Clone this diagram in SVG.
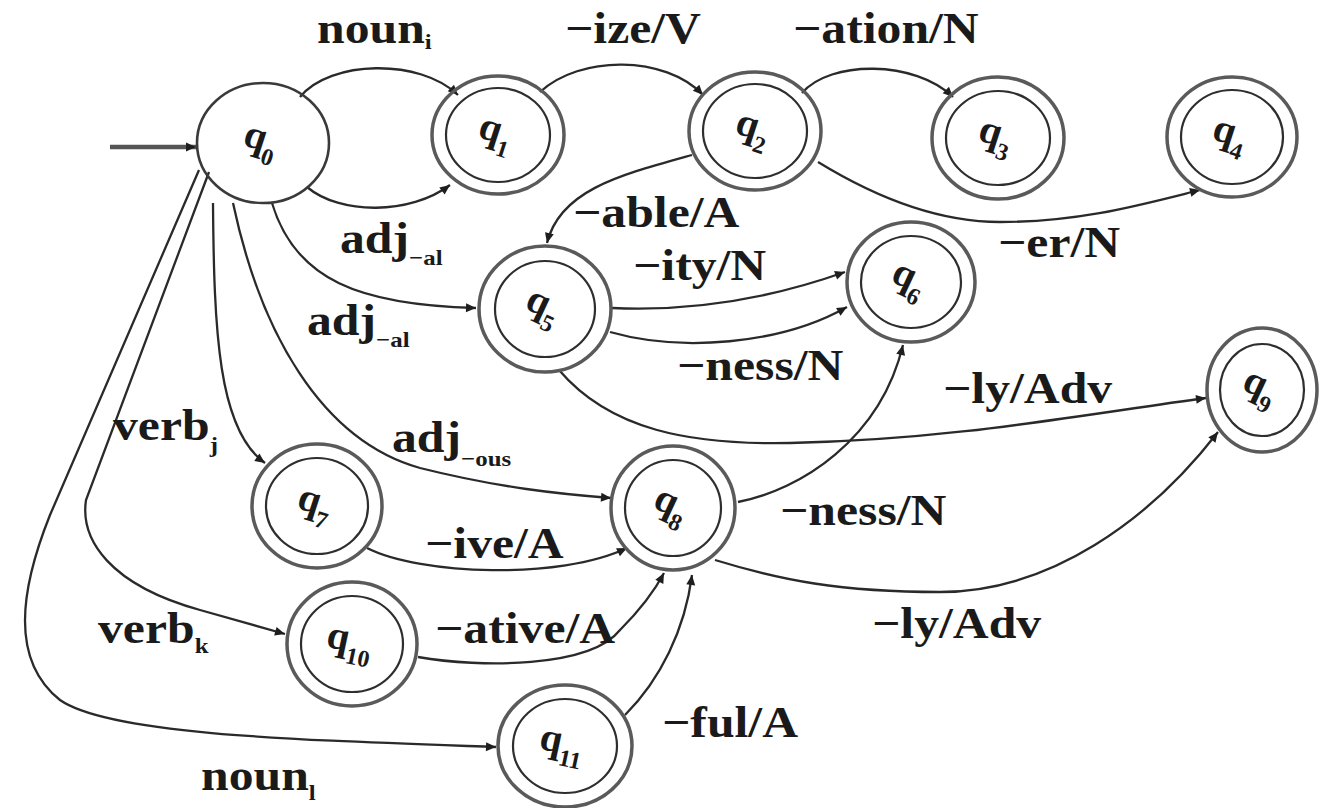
<svg xmlns="http://www.w3.org/2000/svg" width="1321" height="808" viewBox="0 0 1321 808">
<defs>
<marker id="ah" viewBox="0 0 10 10" refX="10" refY="5" markerWidth="14" markerHeight="10" markerUnits="userSpaceOnUse" orient="auto">
<path d="M0,0.5 L10,5 L0,9.5 z" fill="#1e1e1e"/>
</marker>
<style>
.outer{fill:none;stroke:#5a5a5a;stroke-width:3.5}
.inner{fill:none;stroke:#2e2e2e;stroke-width:2.2}
.single{fill:none;stroke:#3a3a3a;stroke-width:2.6}
.edge{fill:none;stroke:#2a2a2a;stroke-width:2.3;marker-end:url(#ah)}
.start{fill:none;stroke:#555;stroke-width:4.5;marker-end:url(#ah)}
.lbl{font-family:"Liberation Serif","Times New Roman",serif;font-weight:bold;font-size:44px;fill:#1a1a1a}
.sub{font-size:22px}
.nl{font-family:"Liberation Serif","Times New Roman",serif;font-weight:bold;font-size:40px;fill:#1a1a1a}
.nsub{font-size:24px}
</style>
</defs>
<rect x="0" y="0" width="1321" height="808" fill="#ffffff"/>

<g id="connectors">
<path class="start" d="M110,147 L196,147"/>
<path class="edge" d="M300,97 C330,60 420,58 458,95"/>
<path class="edge" d="M307,187 C340,215 410,215 450,185"/>
<path class="edge" d="M540,92 C580,55 665,55 703,95"/>
<path class="edge" d="M802,93 C830,60 915,60 953,97"/>
<path class="edge" d="M818,162 C880,200 940,222 1000,222 C1080,222 1140,205 1200,190"/>
<path class="edge" d="M692,155 C620,175 560,190 547,243"/>
<path class="edge" d="M272,203 C295,280 360,305 476,308"/>
<path class="edge" d="M612,308 C700,312 780,295 845,272"/>
<path class="edge" d="M610,332 C680,352 780,345 847,307"/>
<path class="edge" d="M559,370 C610,430 690,445 790,443 C950,440 1080,415 1206,398"/>
<path class="edge" d="M738,502 C800,490 880,440 903,345"/>
<path class="edge" d="M715,560 C780,580 840,592 940,592 C1050,592 1150,520 1218,432"/>
<path class="edge" d="M213,203 C214,330 218,430 265,463"/>
<path class="edge" d="M233,203 C260,330 320,440 420,468 C500,488 560,494 611,498"/>
<path class="edge" d="M367,548 C420,575 560,580 627,548"/>
<path class="edge" d="M209,172 L86,500 C80,540 110,585 200,610 L285,634"/>
<path class="edge" d="M199,170 L50,515 C20,590 10,660 60,700 C110,735 300,740 496,747"/>
<path class="edge" d="M418,657 C480,668 590,668 620,630 C640,610 655,590 664,573"/>
<path class="edge" d="M625,715 C660,680 685,630 692,575"/>
</g>

<g id="edge-labels">
<text class="lbl" transform="translate(317,43) scale(1.13,1)">noun<tspan class="sub" dy="6">i</tspan></text>
<text class="lbl" transform="translate(565,43) scale(1.13,1)">−ize/V</text>
<text class="lbl" transform="translate(793,43) scale(1.13,1)">−ation/N</text>
<text class="lbl" transform="translate(998,257) scale(1.13,1)">−er/N</text>
<text class="lbl" transform="translate(573,227) scale(1.13,1)">−able/A</text>
<text class="lbl" transform="translate(340,253) scale(1.13,1)">adj<tspan class="sub" dy="12">−al</tspan></text>
<text class="lbl" transform="translate(307,335) scale(1.13,1)">adj<tspan class="sub" dy="12">−al</tspan></text>
<text class="lbl" transform="translate(633,280) scale(1.13,1)">−ity/N</text>
<text class="lbl" transform="translate(677,380) scale(1.13,1)">−ness/N</text>
<text class="lbl" transform="translate(943,403) scale(1.13,1)">−ly/Adv</text>
<text class="lbl" transform="translate(113,440) scale(1.13,1)">verb<tspan class="sub" dy="12">j</tspan></text>
<text class="lbl" transform="translate(392,452) scale(1.13,1)">adj<tspan class="sub" dy="14">−ous</tspan></text>
<text class="lbl" transform="translate(425,558) scale(1.13,1)">−ive/A</text>
<text class="lbl" transform="translate(780,525) scale(1.13,1)">−ness/N</text>
<text class="lbl" transform="translate(872,638) scale(1.13,1)">−ly/Adv</text>
<text class="lbl" transform="translate(98,643) scale(1.13,1)">verb<tspan class="sub" dy="10">k</tspan></text>
<text class="lbl" transform="translate(435,643) scale(1.13,1)">−ative/A</text>
<text class="lbl" transform="translate(662,737) scale(1.13,1)">−ful/A</text>
<text class="lbl" transform="translate(201,790) scale(1.13,1)">noun<tspan class="sub" dy="10">l</tspan></text>
</g>

<g id="q0">
<ellipse class="single" cx="263" cy="143" rx="66" ry="60"/>
<text class="nl" transform="translate(263,143) rotate(18)" x="-20" y="8">q<tspan class="nsub" dy="12">0</tspan></text>
</g>
<g id="q1">
<ellipse class="outer" cx="498" cy="135" rx="66" ry="59"/>
<ellipse class="inner" cx="498" cy="135" rx="52" ry="47"/>
<text class="nl" transform="translate(498,135) rotate(18)" x="-20" y="8">q<tspan class="nsub" dy="12">1</tspan></text>
</g>
<g id="q2">
<ellipse class="outer" cx="755" cy="131" rx="66" ry="59"/>
<ellipse class="inner" cx="755" cy="131" rx="52" ry="47"/>
<text class="nl" transform="translate(755,131) rotate(18)" x="-20" y="8">q<tspan class="nsub" dy="12">2</tspan></text>
</g>
<g id="q3">
<ellipse class="outer" cx="998" cy="138" rx="66" ry="61"/>
<ellipse class="inner" cx="998" cy="138" rx="52" ry="47"/>
<text class="nl" transform="translate(998,138) rotate(18)" x="-20" y="8">q<tspan class="nsub" dy="12">3</tspan></text>
</g>
<g id="q4">
<ellipse class="outer" cx="1232" cy="137" rx="65" ry="60"/>
<ellipse class="inner" cx="1232" cy="137" rx="51" ry="47"/>
<text class="nl" transform="translate(1232,137) rotate(18)" x="-20" y="8">q<tspan class="nsub" dy="12">4</tspan></text>
</g>
<g id="q5">
<ellipse class="outer" cx="545" cy="309" rx="66" ry="63"/>
<ellipse class="inner" cx="545" cy="309" rx="50" ry="48"/>
<text class="nl" transform="translate(545,309) rotate(25)" x="-20" y="8">q<tspan class="nsub" dy="12">5</tspan></text>
</g>
<g id="q6">
<ellipse class="outer" cx="911" cy="282" rx="64" ry="60"/>
<ellipse class="inner" cx="911" cy="282" rx="50" ry="46"/>
<text class="nl" transform="translate(911,282) rotate(25)" x="-20" y="8">q<tspan class="nsub" dy="12">6</tspan></text>
</g>
<g id="q9">
<ellipse class="outer" cx="1262" cy="390" rx="55" ry="62"/>
<ellipse class="inner" cx="1262" cy="390" rx="42" ry="46"/>
<text class="nl" transform="translate(1262,390) rotate(25)" x="-20" y="8">q<tspan class="nsub" dy="12">9</tspan></text>
</g>
<g id="q7">
<ellipse class="outer" cx="317" cy="506" rx="65" ry="62"/>
<ellipse class="inner" cx="317" cy="506" rx="51" ry="48"/>
<text class="nl" transform="translate(317,506) rotate(18)" x="-20" y="8">q<tspan class="nsub" dy="12">7</tspan></text>
</g>
<g id="q8">
<ellipse class="outer" cx="673" cy="508" rx="62" ry="62"/>
<ellipse class="inner" cx="673" cy="508" rx="48" ry="48"/>
<text class="nl" transform="translate(673,508) rotate(25)" x="-20" y="8">q<tspan class="nsub" dy="12">8</tspan></text>
</g>
<g id="q10">
<ellipse class="outer" cx="352" cy="644" rx="65" ry="62"/>
<ellipse class="inner" cx="352" cy="644" rx="51" ry="48"/>
<text class="nl" transform="translate(352,644) rotate(12)" x="-26" y="8">q<tspan class="nsub" dy="12">10</tspan></text>
</g>
<g id="q11">
<ellipse class="outer" cx="565" cy="746" rx="67" ry="61"/>
<ellipse class="inner" cx="565" cy="746" rx="52" ry="47"/>
<text class="nl" transform="translate(565,746) rotate(12)" x="-26" y="8">q<tspan class="nsub" dy="12">11</tspan></text>
</g>
</svg>
